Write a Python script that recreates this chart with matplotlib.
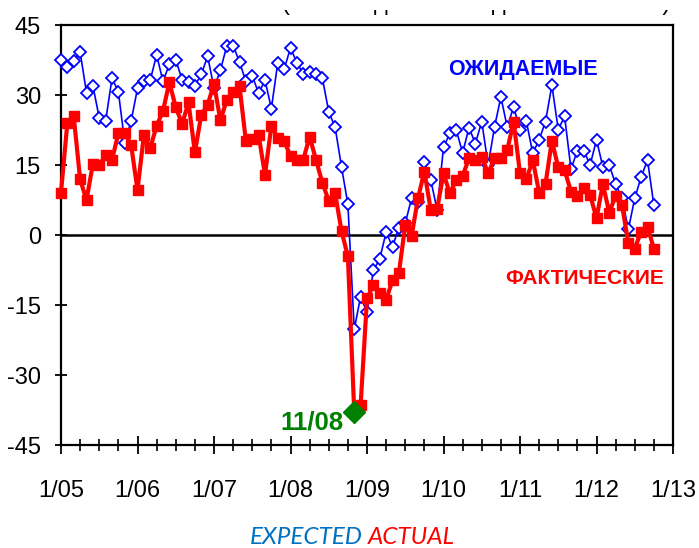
import matplotlib
matplotlib.use("Agg")
import matplotlib.pyplot as plt
from matplotlib.ticker import FixedLocator, MultipleLocator
from matplotlib.transforms import Bbox, IdentityTransform, TransformedBbox
import numpy as np

plt.rcParams['font.family'] = ['Liberation Sans', 'DejaVu Sans']

# Monthly survey balances, Jan 2005 .. Oct 2012
expected = [
    37.6, 35.9, 37.3, 39.2, 30.5, 32.0, 25.1, 24.4, 33.6, 30.7, 19.8, 24.4,
    31.4, 33.1, 33.2, 38.6, 32.9, 36.6, 37.6, 33.2, 32.7, 32.0, 34.4, 38.3,
    31.5, 35.3, 40.5, 40.6, 37.1, 32.9, 34.1, 30.4, 33.2, 27.1, 36.9, 35.5,
    40.1, 36.9, 34.6, 35.0, 34.6, 33.6, 26.4, 23.1, 14.6, 6.6, -20.2, -13.2,
    -16.6, -7.6, -5.1, 0.6, -2.5, 1.6, 2.5, 7.9, 7.1, 15.7, 11.8, 5.4,
    18.8, 21.8, 22.5, 17.6, 23.0, 19.6, 24.3, 15.0, 23.1, 29.6, 23.1, 27.5,
    22.5, 24.4, 17.5, 20.4, 24.3, 32.1, 22.6, 25.4, 14.1, 18.1, 18.1, 15.0,
    20.4, 14.6, 15.0, 10.9, 7.9, 1.2, 7.9, 12.4, 16.1, 6.4,
]
actual = [
    9.1, 24.1, 25.4, 11.9, 7.5, 15.2, 14.9, 17.1, 16.1, 21.8, 21.8, 19.3,
    9.6, 21.4, 18.6, 23.4, 26.6, 32.7, 27.4, 23.8, 28.4, 17.7, 25.7, 27.9,
    32.4, 24.6, 28.9, 30.7, 31.9, 20.2, 20.5, 21.4, 12.9, 23.4, 20.7, 20.2,
    16.9, 16.1, 16.1, 21.1, 16.1, 11.2, 7.3, 8.9, 0.9, -4.6, -38.0, -36.5,
    -13.6, -10.7, -12.5, -13.9, -9.7, -8.2, 2.2, -0.2, 7.9, 13.6, 5.4, 5.6,
    13.2, 8.9, 11.8, 12.7, 16.4, 16.0, 16.8, 13.2, 16.4, 16.4, 18.2, 24.3,
    13.2, 11.9, 16.1, 9.1, 10.9, 20.2, 14.5, 13.9, 9.3, 8.4, 10.0, 8.6,
    3.6, 10.9, 4.8, 8.4, 6.4, -1.8, -2.9, 0.7, 1.8, -2.9,
]
year_labels = ['1/05', '1/06', '1/07', '1/08', '1/09', '1/10', '1/11', '1/12', '1/13']
y_ticks = [-45, -30, -15, 0, 15, 30, 45]
low_label = '11/08'
low_index = 46          # months after Jan 2005 -> Nov 2008
title_text = '(в пп: индекс и ожидания – баланс)'

months = np.arange(len(expected))

W, H = 699, 548
fig = plt.figure(figsize=(W / 100, H / 100), dpi=100)
ax = fig.add_axes([61 / W, 1 - 445 / H, 612 / W, 420 / H])
ax.set_xlim(0, 96)
ax.set_ylim(-45, 45)

ax.axhline(0, color='black', lw=1.8, zorder=2)

ax.plot(months, expected, color='#0000FF', lw=1.2, marker='D', ms=5.8,
        mfc='white', mec='#0000FF', mew=1.3, zorder=3, clip_on=False)
marked = [i for i in range(len(actual)) if i != low_index]
ax.plot(months, actual, color='#FF0000', lw=3.0, marker='s', ms=6.8,
        markevery=marked, zorder=4, clip_on=False)
ax.plot([low_index], [actual[low_index]], marker='D', color='#008000',
        ms=11.5, ls='none', zorder=5, clip_on=False)

for s in ax.spines.values():
    s.set_linewidth(1.6)
    s.set_color('black')

ax.xaxis.set_major_locator(FixedLocator(np.arange(0, 97, 12)))
ax.xaxis.set_minor_locator(MultipleLocator(3))
ax.set_xticklabels(year_labels)
ax.set_yticks(y_ticks)
ax.set_yticklabels([str(v) for v in y_ticks])
ax.tick_params(axis='x', which='major', direction='inout', length=13, width=1.3,
               labelsize=17, pad=18.5)
ax.tick_params(axis='x', which='minor', direction='inout', length=9, width=1.2)
ax.tick_params(axis='y', which='major', direction='inout', length=9, width=1.3,
               labelsize=17, pad=10)

ax.annotate(low_label, xy=(low_index, actual[low_index]), xytext=(-8, -7),
            textcoords='offset points', color='#008000', fontsize=18.5,
            fontweight='bold', ha='right', va='center', zorder=6)

fig.text(523 / W, 1 - 70 / H, 'ОЖИДАЕМЫЕ', color='#0000FF', fontsize=15.5,
         fontweight='bold', ha='center', va='center')
fig.text(585 / W, 1 - 278 / H, 'ФАКТИЧЕСКИЕ', color='#FF0000', fontsize=15,
         fontweight='bold', ha='center', va='center')

# bottom caption
fig.text(363 / W, 1 - 538 / H, 'EXPECTED', color='#0070C0', fontsize=17.5,
         fontstyle='italic', family='Lato', ha='right', va='center')
fig.text(368 / W, 1 - 538 / H, 'ACTUAL', color='#FF0000', fontsize=17.5,
         fontstyle='italic', family='Lato', ha='left', va='center')

# header line, cut off by the chart area so only the lowest strokes show
t = fig.text(476 / W, 1 - 10 / H, title_text, color='black', fontsize=17,
             ha='center', va='baseline')
t.set_clip_box(TransformedBbox(Bbox([[0, 0], [W, H - 10]]), IdentityTransform()))

fig.savefig('out.png', dpi=100)
